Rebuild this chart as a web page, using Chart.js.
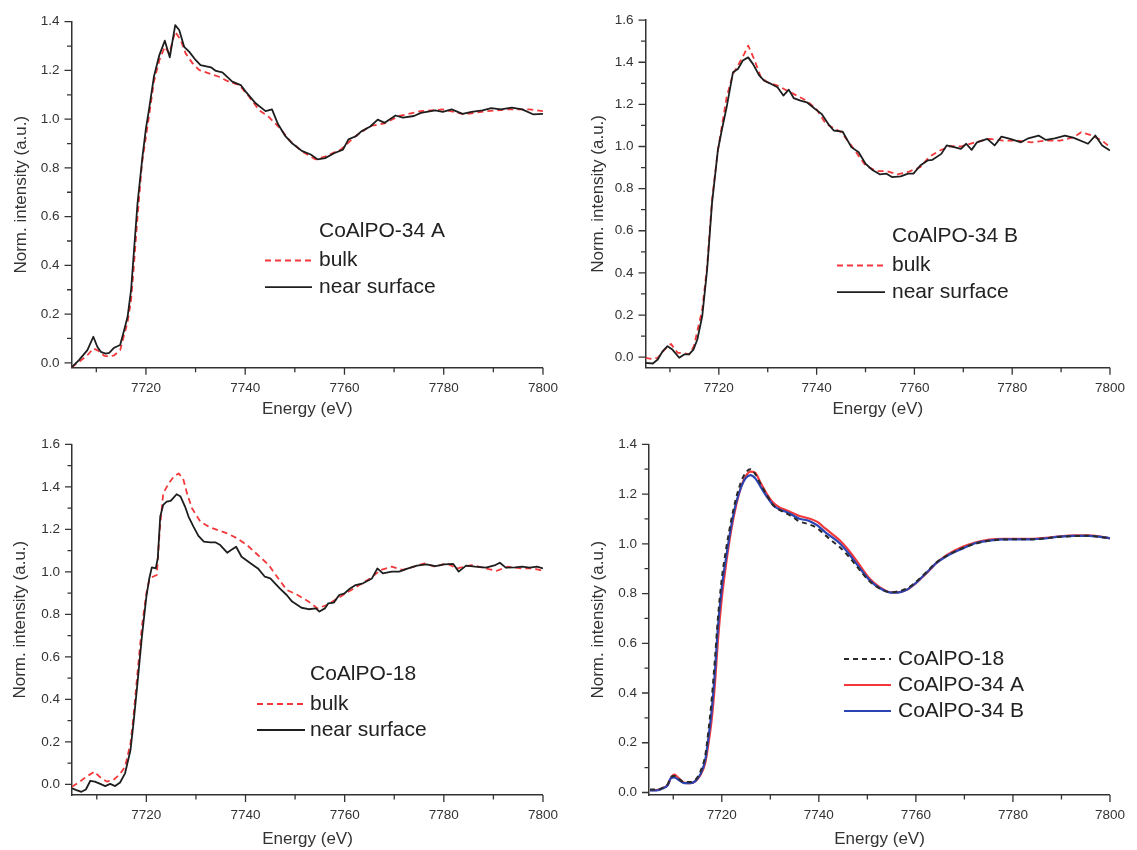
<!DOCTYPE html>
<html>
<head>
<meta charset="utf-8">
<title>Co K-edge XANES</title>
<script src="https://cdn.jsdelivr.net/npm/chart.js@4.4.1/dist/chart.umd.min.js"></script>
<style>
  html, body { margin: 0; padding: 0; background: #fff; }
  #wrap { position: relative; width: 1137px; height: 850px; overflow: hidden; }
  canvas { position: absolute; }
</style>
</head>
<body>
<div id="wrap">
  <canvas id="pA" width="570" height="420" style="left:0;top:0"></canvas>
  <canvas id="pB" width="567" height="420" style="left:570px;top:0"></canvas>
  <canvas id="p18" width="570" height="430" style="left:0;top:420px"></canvas>
  <canvas id="pAll" width="567" height="430" style="left:570px;top:420px"></canvas>
</div>
<script>
// tick labels
const xTickLabels = ['7720', '7740', '7760', '7780', '7800'];
const yTicks14 = ['0.0', '0.2', '0.4', '0.6', '0.8', '1.0', '1.2', '1.4'];
const yTicks16 = ['0.0', '0.2', '0.4', '0.6', '0.8', '1.0', '1.2', '1.4', '1.6'];

// CoAlPO-34 A
const aBulkE = [7705, 7706.5, 7708.2, 7709.4, 7710.2, 7711.6, 7712.6, 7713.6, 7714.8, 7715.6, 7716.3, 7717, 7717.6, 7718.3, 7719.2, 7720, 7720.6, 7721.6, 7722.7, 7723.8, 7724.7, 7725.9, 7727, 7728, 7729.4, 7730.7, 7732.7, 7734.7, 7736.7, 7738.8, 7740.8, 7742.8, 7744.7, 7746.9, 7749.1, 7751.3, 7754.2, 7756.4, 7759.3, 7762.2, 7765.2, 7768.1, 7771, 7775.4, 7779.8, 7784.2, 7788.6, 7792.9, 7797.3, 7800];
const aBulkI = [-0.019, 0.004, 0.031, 0.059, 0.052, 0.029, 0.025, 0.031, 0.052, 0.114, 0.168, 0.257, 0.408, 0.599, 0.818, 0.928, 1.01, 1.153, 1.242, 1.297, 1.27, 1.359, 1.325, 1.27, 1.229, 1.202, 1.188, 1.174, 1.154, 1.14, 1.092, 1.037, 1.01, 0.965, 0.91, 0.87, 0.835, 0.849, 0.876, 0.93, 0.972, 0.983, 1.013, 1.033, 1.04, 1.02, 1.033, 1.04, 1.04, 1.033];
const aNearE = [7705, 7706.5, 7708.2, 7709.4, 7710.2, 7710.9, 7711.9, 7712.6, 7713.6, 7714.8, 7715.6, 7716.3, 7717, 7717.6, 7718.3, 7719.3, 7720, 7720.6, 7721.6, 7722.7, 7723.8, 7724.8, 7725.9, 7726.7, 7727.7, 7728.7, 7730, 7731, 7733.1, 7734.1, 7735.4, 7737.4, 7739.1, 7740.1, 7742.1, 7744.1, 7745.4, 7746.6, 7748.1, 7749.5, 7751.4, 7753.2, 7754.6, 7756.1, 7757.9, 7759.7, 7760.8, 7762.3, 7763.4, 7765.2, 7766.7, 7768.1, 7770.3, 7771.8, 7774, 7775.4, 7778.3, 7779.8, 7781.6, 7783.8, 7785.6, 7787.8, 7789.6, 7791.5, 7793.7, 7795.8, 7798, 7800];
const aNearI = [-0.019, 0.011, 0.052, 0.107, 0.066, 0.045, 0.038, 0.041, 0.062, 0.073, 0.134, 0.189, 0.298, 0.463, 0.654, 0.846, 0.962, 1.037, 1.174, 1.263, 1.322, 1.254, 1.386, 1.366, 1.297, 1.277, 1.243, 1.222, 1.213, 1.198, 1.192, 1.154, 1.14, 1.113, 1.065, 1.033, 1.04, 0.98, 0.93, 0.90, 0.87, 0.855, 0.835, 0.84, 0.86, 0.875, 0.917, 0.93, 0.95, 0.97, 0.998, 0.985, 1.015, 1.006, 1.013, 1.026, 1.036, 1.03, 1.04, 1.022, 1.03, 1.036, 1.045, 1.04, 1.047, 1.04, 1.02, 1.022];

// CoAlPO-34 B
const bBulkE = [7705, 7706.2, 7707.5, 7708.9, 7710.2, 7711.6, 7712.6, 7713.9, 7714.9, 7716.6, 7717.6, 7718.6, 7719.8, 7720.6, 7721.6, 7722.9, 7723.9, 7725.2, 7726, 7727.2, 7728.6, 7729.9, 7731.9, 7733.9, 7735.9, 7737.9, 7739.9, 7741.9, 7745, 7747.1, 7750, 7752.2, 7754.3, 7756.5, 7758.7, 7761.2, 7763, 7765.2, 7767.4, 7769.5, 7772.4, 7775.3, 7778.2, 7781.1, 7784, 7786.9, 7789.8, 7792.6, 7794.1, 7796.3, 7798.4, 7800];
const bBulkI = [-0.003, -0.008, -0.003, 0.036, 0.063, 0.02, 0.02, 0.013, 0.052, 0.225, 0.43, 0.746, 0.982, 1.093, 1.235, 1.345, 1.384, 1.44, 1.479, 1.416, 1.329, 1.305, 1.29, 1.266, 1.242, 1.218, 1.179, 1.108, 1.068, 1.005, 0.91, 0.883, 0.883, 0.868, 0.879, 0.902, 0.95, 0.981, 1.002, 1.0, 1.02, 1.036, 1.028, 1.028, 1.02, 1.028, 1.028, 1.044, 1.068, 1.052, 1.028, 0.997];
const bNearE = [7705, 7706.5, 7707.5, 7708.5, 7709.5, 7710.5, 7711.9, 7712.9, 7713.9, 7714.8, 7715.6, 7716.6, 7717.6, 7718.6, 7719.8, 7720.6, 7721.6, 7722.9, 7723.9, 7724.9, 7726, 7727, 7728.3, 7729.3, 7730.7, 7732, 7733.2, 7734.3, 7735.3, 7736.7, 7738, 7739.7, 7741, 7742.6, 7743.5, 7745.3, 7747.1, 7748.6, 7750, 7751.5, 7752.9, 7754.3, 7755.4, 7757.2, 7758.7, 7759.8, 7761.2, 7762.7, 7763.7, 7765.5, 7766.6, 7768.1, 7769.5, 7770.6, 7771.7, 7772.8, 7774.9, 7776.4, 7777.8, 7779.6, 7781.8, 7783.3, 7785.4, 7786.9, 7788.7, 7790.8, 7792.6, 7795.5, 7797, 7798.4, 7800];
const bNearI = [-0.027, -0.03, -0.011, 0.028, 0.052, 0.036, -0.003, 0.013, 0.013, 0.036, 0.084, 0.194, 0.415, 0.73, 0.982, 1.077, 1.187, 1.353, 1.368, 1.408, 1.423, 1.391, 1.336, 1.312, 1.297, 1.281, 1.242, 1.27, 1.23, 1.218, 1.21, 1.178, 1.155, 1.1, 1.076, 1.071, 0.997, 0.973, 0.918, 0.887, 0.868, 0.871, 0.855, 0.858, 0.871, 0.871, 0.91, 0.934, 0.937, 0.965, 1.005, 0.997, 0.989, 1.013, 0.984, 1.02, 1.036, 1.005, 1.047, 1.036, 1.02, 1.039, 1.052, 1.031, 1.039, 1.052, 1.041, 1.013, 1.052, 1.005, 0.981];

// CoAlPO-18
const cBulkE = [7705, 7706.6, 7707.9, 7709.5, 7710.7, 7712, 7713.3, 7714.7, 7715.7, 7716.8, 7717.4, 7718.2, 7719.1, 7720, 7720.6, 7721.3, 7722.1, 7722.7, 7723.4, 7724.5, 7725.5, 7726.5, 7727.4, 7728.2, 7729.2, 7730.9, 7732.6, 7734.3, 7736.3, 7738.3, 7740.3, 7742.5, 7744.7, 7746.1, 7748.3, 7750.5, 7752.7, 7754.5, 7756.4, 7758.6, 7760.8, 7763, 7765.1, 7767.3, 7769.5, 7771.7, 7773.9, 7776.1, 7778.3, 7780.5, 7782.7, 7785.6, 7788.5, 7790.7, 7792.9, 7795.8, 7798, 7800];
const cBulkI = [-0.011, 0.013, 0.036, 0.06, 0.033, 0.013, 0.02, 0.049, 0.083, 0.193, 0.318, 0.522, 0.742, 0.899, 0.962, 0.977, 0.985, 1.197, 1.369, 1.416, 1.447, 1.463, 1.44, 1.369, 1.299, 1.236, 1.212, 1.197, 1.181, 1.158, 1.126, 1.079, 1.032, 0.985, 0.915, 0.891, 0.86, 0.828, 0.844, 0.875, 0.907, 0.938, 0.969, 1.009, 1.024, 1.009, 1.024, 1.04, 1.024, 1.04, 1.016, 1.032, 1.016, 1.005, 1.024, 1.016, 1.016, 1.005];
const cNearE = [7705, 7705.9, 7706.9, 7707.8, 7708.7, 7709.6, 7710.7, 7711.7, 7712.7, 7713.7, 7714.7, 7715.7, 7716.8, 7717.4, 7718.2, 7719.1, 7720, 7720.6, 7721.1, 7721.9, 7722.3, 7722.8, 7723.4, 7724.1, 7724.9, 7725.5, 7726.1, 7726.9, 7727.8, 7728.5, 7729.5, 7730.5, 7731.6, 7732.9, 7733.9, 7734.9, 7736.3, 7737.1, 7738.1, 7739.2, 7741, 7742.5, 7743.9, 7745, 7746.9, 7748.3, 7749.4, 7751.3, 7752.7, 7754.2, 7754.9, 7756, 7756.7, 7757.8, 7758.9, 7760, 7761.1, 7762.2, 7763.7, 7765.5, 7766.6, 7767.7, 7769.5, 7771, 7772.8, 7774.6, 7776.5, 7778.3, 7780.1, 7781.9, 7783, 7784.5, 7786.3, 7788.5, 7790.4, 7791.3, 7792.5, 7794.4, 7795.8, 7797.3, 7798.8, 7800];
const cNearI = [-0.019, -0.027, -0.035, -0.024, 0.017, 0.013, 0.002, -0.008, 0.002, -0.008, 0.009, 0.052, 0.162, 0.287, 0.475, 0.695, 0.883, 0.97, 1.021, 1.016, 1.064, 1.26, 1.315, 1.33, 1.334, 1.349, 1.365, 1.354, 1.307, 1.26, 1.213, 1.169, 1.142, 1.139, 1.139, 1.126, 1.09, 1.103, 1.118, 1.071, 1.04, 1.016, 0.977, 0.969, 0.922, 0.891, 0.86, 0.831, 0.824, 0.828, 0.813, 0.828, 0.852, 0.855, 0.891, 0.899, 0.922, 0.938, 0.946, 0.969, 1.016, 0.993, 1.001, 1.001, 1.016, 1.029, 1.035, 1.027, 1.035, 1.037, 1.001, 1.029, 1.024, 1.02, 1.032, 1.043, 1.02, 1.021, 1.024, 1.02, 1.024, 1.016];

// comparison panel (same energy grid for all three samples)
const cmpE = [7705.2, 7706.5, 7707.9, 7708.9, 7709.5, 7710.2, 7711.1, 7712.2, 7713.5, 7714.6, 7715.6, 7716.6, 7717.2, 7717.9, 7718.6, 7719.2, 7720, 7720.9, 7721.9, 7722.9, 7724, 7724.9, 7725.9, 7726.9, 7728, 7729.3, 7730.6, 7732, 7733.3, 7734.6, 7736, 7738, 7739.7, 7741.3, 7742.7, 7744.4, 7746.1, 7748.2, 7750.4, 7752.6, 7754.8, 7756.2, 7758.1, 7759.9, 7762.1, 7764.2, 7766.4, 7769.3, 7772.2, 7775.1, 7778, 7780.9, 7783.9, 7786.8, 7789.7, 7792.6, 7795.5, 7797.7, 7800];
const cmp18 = [0.012, 0.012, 0.020, 0.035, 0.062, 0.066, 0.055, 0.042, 0.042, 0.052, 0.085, 0.150, 0.240, 0.370, 0.540, 0.700, 0.860, 0.980, 1.090, 1.180, 1.250, 1.285, 1.300, 1.280, 1.240, 1.195, 1.155, 1.135, 1.122, 1.108, 1.090, 1.078, 1.062, 1.035, 1.012, 0.985, 0.950, 0.900, 0.850, 0.820, 0.805, 0.808, 0.820, 0.845, 0.885, 0.925, 0.952, 0.980, 1.000, 1.012, 1.017, 1.018, 1.018, 1.022, 1.028, 1.031, 1.032, 1.028, 1.022];
const cmp34A = [0.010, 0.010, 0.018, 0.032, 0.058, 0.072, 0.058, 0.040, 0.038, 0.046, 0.070, 0.120, 0.190, 0.290, 0.440, 0.610, 0.780, 0.920, 1.050, 1.150, 1.230, 1.270, 1.290, 1.285, 1.245, 1.200, 1.165, 1.145, 1.135, 1.124, 1.112, 1.102, 1.088, 1.062, 1.040, 1.012, 0.975, 0.920, 0.862, 0.825, 0.805, 0.805, 0.815, 0.840, 0.880, 0.922, 0.955, 0.985, 1.005, 1.017, 1.020, 1.020, 1.020, 1.024, 1.030, 1.034, 1.034, 1.030, 1.022];
const cmp34B = [0.008, 0.008, 0.017, 0.031, 0.058, 0.061, 0.051, 0.038, 0.038, 0.047, 0.074, 0.132, 0.213, 0.327, 0.489, 0.664, 0.825, 0.946, 1.067, 1.161, 1.229, 1.263, 1.276, 1.263, 1.229, 1.189, 1.155, 1.137, 1.128, 1.115, 1.101, 1.092, 1.074, 1.047, 1.027, 1.0, 0.962, 0.908, 0.855, 0.821, 0.804, 0.804, 0.815, 0.841, 0.882, 0.922, 0.951, 0.978, 1.002, 1.013, 1.018, 1.018, 1.018, 1.022, 1.029, 1.032, 1.032, 1.029, 1.022];

const FONT = '"Liberation Sans", Arial, sans-serif';
Chart.defaults.font.family = FONT;
Chart.defaults.color = '#333';

const pts = (xs, ys) => xs.map((x, i) => ({ x: x, y: ys[i] }));

const RED = '#f2383a';
const BLACK = '#1e1e1e';
const BLUE = '#2b45b5';

// Origin style outward ticks, long on labelled values, short in between
const axisTicks = {
  id: 'axisTicks',
  afterDraw(chart) {
    const { ctx, chartArea: a, scales: { x, y } } = chart;
    ctx.save();
    ctx.strokeStyle = '#333';
    ctx.lineWidth = 1.3;
    ctx.beginPath();
    x.ticks.forEach(t => {
      const px = x.getPixelForValue(t.value);
      const len = xTickLabels.includes(String(t.value)) ? 7 : 4.5;
      ctx.moveTo(px, a.bottom);
      ctx.lineTo(px, a.bottom + len);
    });
    y.ticks.forEach(t => {
      const py = y.getPixelForValue(t.value);
      const len = Math.round(t.value * 10) % 2 === 0 ? 7 : 4.5;
      ctx.moveTo(a.left - len, py);
      ctx.lineTo(a.left, py);
    });
    ctx.stroke();
    ctx.restore();
  }
};

// legend drawn inside the plot area
const insetLegend = {
  id: 'insetLegend',
  afterDraw(chart, args, o) {
    const ctx = chart.ctx;
    ctx.save();
    ctx.font = '21px ' + FONT;
    ctx.fillStyle = '#222';
    ctx.textBaseline = 'middle';
    let y = o.top;
    if (o.title) {
      ctx.fillText(o.title, o.textX, y);
      y += o.titleGap;
    }
    chart.data.datasets.forEach(ds => {
      ctx.strokeStyle = ds.borderColor;
      ctx.lineWidth = ds.borderWidth;
      ctx.setLineDash(ds.borderDash || []);
      ctx.beginPath();
      ctx.moveTo(o.lineX0, y);
      ctx.lineTo(o.lineX1, y);
      ctx.stroke();
      ctx.fillText(ds.label, o.textX, y);
      y += o.rowGap;
    });
    ctx.restore();
  }
};

function makePanel(id, p) {
  return new Chart(document.getElementById(id), {
    type: 'line',
    data: { datasets: p.datasets },
    options: {
      responsive: false,
      animation: false,
      layout: { padding: { left: 0, right: p.padRight, top: p.padTop, bottom: 0 } },
      elements: { point: { radius: 0 }, line: { borderJoinStyle: 'round', fill: false } },
      plugins: {
        legend: { display: false },
        tooltip: { enabled: false },
        insetLegend: p.legend
      },
      scales: {
        x: {
          type: 'linear',
          min: 7705,
          max: 7800,
          afterFit: s => { s.height = p.xAxisH; },
          grid: { display: false, drawTicks: false },
          border: { color: '#333', width: 1.5 },
          ticks: {
            stepSize: 10,
            includeBounds: false,
            autoSkip: false,
            maxRotation: 0,
            padding: 12,
            font: { size: 13.5 },
            callback: v => xTickLabels.includes(String(v)) ? String(v) : ''
          },
          title: { display: true, text: 'Energy (eV)', color: '#333', font: { size: 17 }, padding: { top: 0, bottom: 0 } }
        },
        y: {
          type: 'linear',
          min: p.yMin,
          max: p.yMax,
          afterFit: s => { s.width = p.yAxisW; },
          grid: { display: false, drawTicks: false },
          border: { color: '#333', width: 1.5 },
          ticks: {
            stepSize: 0.1,
            includeBounds: false,
            autoSkip: false,
            padding: 12,
            font: { size: 13.5 },
            callback: v => p.yLabels.includes(v.toFixed(1)) ? v.toFixed(1) : ''
          },
          title: { display: true, text: 'Norm. intensity (a.u.)', color: '#333', font: { size: 17 }, padding: { top: p.yTitlePad, bottom: 0 } }
        }
      }
    },
    plugins: [axisTicks, insetLegend]
  });
}

function bulkNear(bulkE, bulkI, nearE, nearI) {
  return [
    { label: 'bulk', data: pts(bulkE, bulkI), borderColor: RED, borderWidth: 1.8, borderDash: [6, 4], tension: 0, order: 2 },
    { label: 'near surface', data: pts(nearE, nearI), borderColor: BLACK, borderWidth: 1.8, tension: 0, order: 1 }
  ];
}

makePanel('pA', {
  datasets: bulkNear(aBulkE, aBulkI, aNearE, aNearI),
  yMin: -0.02, yMax: 1.4, yLabels: yTicks14,
  yAxisW: 71.5, padRight: 26, padTop: 21.7, xAxisH: 52.3, yTitlePad: 11.5,
  legend: { title: 'CoAlPO-34 A', top: 231, titleGap: 29.5, rowGap: 26.6, lineX0: 265, lineX1: 312, textX: 319 }
});

makePanel('pB', {
  datasets: bulkNear(bBulkE, bBulkI, bNearE, bNearI),
  yMin: -0.05, yMax: 1.6, yLabels: yTicks16,
  yAxisW: 75.5, padRight: 17, padTop: 19, xAxisH: 52.3, yTitlePad: 18.5,
  legend: { title: 'CoAlPO-34 B', top: 236, titleGap: 29.5, rowGap: 26.6, lineX0: 267, lineX1: 315, textX: 322 }
});

makePanel('p18', {
  datasets: bulkNear(cBulkE, cBulkI, cNearE, cNearI),
  yMin: -0.05, yMax: 1.6, yLabels: yTicks16,
  yAxisW: 72, padRight: 26, padTop: 24.3, xAxisH: 55, yTitlePad: 10.5,
  legend: { title: 'CoAlPO-18', top: 254, titleGap: 30, rowGap: 26, lineX0: 257, lineX1: 305, textX: 310 }
});

makePanel('pAll', {
  datasets: [
    { label: 'CoAlPO-18', data: pts(cmpE, cmp18), borderColor: '#2a2a2a', borderWidth: 2, borderDash: [5, 4], cubicInterpolationMode: 'monotone', order: 1 },
    { label: 'CoAlPO-34 A', data: pts(cmpE, cmp34A), borderColor: RED, borderWidth: 2.2, cubicInterpolationMode: 'monotone', order: 3 },
    { label: 'CoAlPO-34 B', data: pts(cmpE, cmp34B), borderColor: BLUE, borderWidth: 2.2, cubicInterpolationMode: 'monotone', order: 2 }
  ],
  yMin: -0.01, yMax: 1.4, yLabels: yTicks14,
  yAxisW: 79, padRight: 16, padTop: 24.3, xAxisH: 55, yTitlePad: 18.5,
  legend: { title: '', top: 239, titleGap: 0, rowGap: 26, lineX0: 274, lineX1: 321, textX: 328 }
});
</script>
</body>
</html>
